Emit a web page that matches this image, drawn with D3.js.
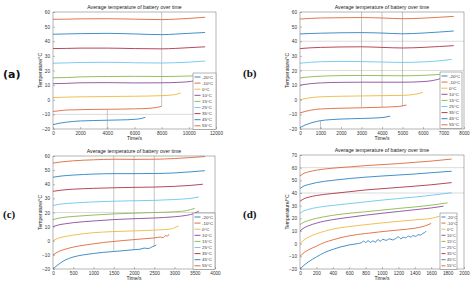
<!DOCTYPE html>
<html>
<head>
<meta charset="utf-8">
<script src="https://cdn.jsdelivr.net/npm/d3@7"></script>
<style>
  html, body { margin: 0; padding: 0; background: #fff; }
  svg { display: block; }
  text { font-family: "Liberation Sans", Arial, sans-serif; }
</style>
</head>
<body>
<div id="chart"></div>
<script>
// series names, same for all four panels
const seriesNames = ['-20°C', '-10°C', '0°C', '10°C', '15°C', '25°C', '35°C', '45°C', '55°C'];
const titleText = 'Average temperature of battery over time';

// (a) time/s vs temperature/°C
const seriesA = [
  [[0, -17], [500, -16], [1000, -15.3], [2000, -14.5], [3000, -14.2], [4000, -14], [5000, -13.8], [6000, -13.4], [6500, -12.8], [6800, -12]],
  [[0, -8], [500, -7.5], [1000, -7], [2000, -6.8], [3000, -6.6], [4000, -6.5], [5000, -6.4], [6000, -6.2], [7000, -5.9], [7600, -5.3], [8000, -4.5]],
  [[0, 1.5], [1000, 1.8], [2000, 2], [4000, 2.2], [6000, 2.4], [8000, 2.8], [8800, 3.3], [9200, 4], [9400, 4.6]],
  [[0, 11], [1000, 11.2], [2000, 11.6], [4000, 11.7], [6000, 11.5], [8000, 11.6], [9500, 12], [10200, 12.6], [10700, 13.6], [11000, 14.3]],
  [[0, 15], [1000, 15.2], [2000, 15.6], [4000, 15.9], [6000, 16], [8000, 15.9], [10000, 16.2], [11200, 16.6]],
  [[0, 25], [1000, 25.2], [2000, 25.5], [4000, 25.6], [6000, 25.3], [8000, 25.1], [9000, 25.3], [10000, 25.7], [11200, 26.5]],
  [[0, 35], [1000, 35.1], [2000, 35.3], [4000, 35.3], [6000, 35], [8000, 34.8], [9000, 35.1], [10000, 35.6], [11200, 36.2]],
  [[0, 44.8], [1000, 45], [2000, 45.2], [4000, 45.4], [6000, 45], [8000, 44.5], [9000, 44.9], [10000, 45.4], [11200, 46]],
  [[0, 55], [1000, 55.1], [2000, 55.3], [4000, 55.4], [6000, 55.1], [8000, 54.8], [9000, 55.1], [10000, 55.6], [11200, 56.4]]
];
// (b)
const seriesB = [
  [[0, -19], [250, -17.3], [500, -16], [1000, -14.3], [1500, -13.6], [2000, -13.2], [3000, -12.8], [4000, -12.2], [4400, -11.2]],
  [[0, -9], [250, -8], [500, -7.2], [1000, -6.3], [2000, -5.8], [3000, -5.5], [4000, -5.1], [4800, -4.6], [5200, -3.6]],
  [[0, 0], [500, 1.4], [1000, 2], [2000, 2.4], [3000, 2.6], [4000, 2.8], [5000, 3], [5600, 3.7], [6000, 5]],
  [[0, 10], [500, 11], [1000, 11.5], [2000, 11.9], [3000, 12], [4000, 12], [5000, 12], [6000, 12.4], [6500, 13.2], [6900, 14.6]],
  [[0, 15], [500, 15.7], [1000, 16.1], [2000, 16.5], [3000, 16.6], [4000, 16.5], [5000, 16.4], [6000, 16.7], [6800, 17.3], [7300, 18.2]],
  [[0, 25], [500, 25.6], [1000, 26], [2000, 26.2], [3000, 26.1], [4000, 25.8], [5000, 25.5], [6000, 25.9], [6800, 26.6], [7400, 27.6]],
  [[0, 35], [500, 35.5], [1000, 35.8], [2000, 36.1], [3000, 36.2], [4000, 35.8], [5000, 35.4], [6000, 35.8], [6800, 36.4], [7500, 37]],
  [[0, 45], [500, 45.3], [1000, 45.5], [2000, 45.8], [3000, 45.9], [4000, 45.6], [5000, 45.1], [6000, 45.6], [6800, 46.3], [7500, 47]],
  [[0, 55.2], [500, 55.6], [1000, 55.9], [2000, 56.1], [3000, 56.2], [4000, 55.9], [5000, 55.4], [6000, 55.8], [6800, 56.4], [7500, 57]]
];
// (c)
const seriesC = [
  [[0, -20], [100, -17.5], [250, -14.5], [500, -11.5], [750, -10], [1000, -9], [1250, -8.2], [1500, -7.6], [1750, -7], [2000, -6.3], [2150, -6], [2250, -5.2], [2350, -5.5], [2450, -4.3], [2500, -3.8], [2550, -3]],
  [[0, -10], [150, -7.5], [300, -6], [500, -4.5], [750, -3.2], [1000, -2.2], [1250, -1.2], [1500, -0.5], [1750, 0.2], [2000, 0.8], [2250, 1.4], [2500, 2], [2650, 2.6], [2720, 2.2], [2780, 3.6], [2820, 3.2], [2860, 4.6]],
  [[0, 0], [150, 2], [300, 3], [500, 4], [750, 5], [1000, 5.7], [1500, 6.5], [2000, 7], [2500, 7.5], [2900, 8.3], [3100, 10.5]],
  [[0, 10], [150, 11.3], [300, 12], [500, 12.8], [1000, 14], [1500, 15], [2000, 15.6], [2500, 16.1], [3000, 17], [3300, 18], [3500, 19.5], [3600, 21]],
  [[0, 15], [150, 16], [300, 16.7], [500, 17.2], [1000, 18.2], [1500, 19], [2000, 19.5], [2500, 20], [3000, 20.5], [3300, 21.3], [3500, 23]],
  [[0, 25], [200, 26], [500, 26.7], [1000, 27.5], [1500, 28], [2000, 28.3], [2500, 28.6], [3000, 29.2], [3400, 30], [3600, 31]],
  [[0, 35], [200, 35.8], [500, 36.5], [1000, 37.1], [1500, 37.5], [2000, 37.8], [2500, 38], [3000, 38.5], [3400, 39.2], [3700, 40]],
  [[0, 45], [200, 45.8], [500, 46.5], [1000, 47.2], [1500, 47.5], [2000, 47.5], [2500, 47.6], [3000, 48], [3400, 48.8], [3750, 49.6]],
  [[0, 55], [200, 55.8], [500, 56.6], [1000, 57.3], [1500, 57.7], [2000, 57.6], [2500, 57.7], [3000, 58.2], [3400, 58.9], [3750, 59.6]]
];
// (d)
const seriesD = [
  [[0, -20], [50, -17], [100, -14.5], [200, -10.5], [300, -7], [400, -4.5], [500, -2.5], [600, -1], [700, 0], [750, 0.8], [780, 2], [800, 0.8], [830, 2.4], [860, 1], [890, 2.2], [920, 1.2], [950, 3.2], [980, 2], [1010, 3.5], [1050, 2.6], [1090, 3.8], [1130, 3], [1170, 4.2], [1200, 5.4], [1230, 3.9], [1260, 5], [1290, 4.6], [1320, 6], [1350, 5.2], [1380, 6.4], [1410, 5.8], [1440, 7], [1470, 6.8], [1500, 8.2], [1520, 8.8], [1540, 10]],
  [[0, -10], [50, -7], [100, -5], [200, -2], [300, 1], [400, 3], [500, 4.8], [600, 6.2], [800, 8], [1000, 9.5], [1200, 10.8], [1400, 12.2], [1500, 13.5], [1600, 16]],
  [[0, 0], [50, 3], [100, 5], [200, 7.8], [300, 9.8], [400, 11.5], [600, 13.5], [800, 15], [1000, 16.4], [1200, 17.6], [1400, 18.8], [1600, 20], [1700, 21.6]],
  [[0, 10], [50, 12.5], [100, 14], [200, 16.2], [300, 17.8], [400, 19], [600, 20.8], [800, 22.5], [1000, 24], [1200, 25.4], [1400, 26.8], [1600, 28.2], [1750, 29.6]],
  [[0, 15], [50, 17], [100, 18.2], [200, 20], [300, 21.3], [400, 22.4], [600, 24], [800, 25.2], [1000, 26.5], [1200, 27.8], [1400, 29], [1600, 30.4], [1800, 32.2]],
  [[0, 24], [50, 26], [100, 27], [200, 28.5], [400, 30.2], [600, 31.6], [800, 33], [1000, 34.4], [1200, 35.6], [1400, 36.8], [1600, 38.2], [1850, 40.2]],
  [[0, 33.5], [50, 35.5], [100, 36.6], [200, 38], [400, 39.6], [600, 41], [800, 42.4], [1000, 43.4], [1200, 44.4], [1400, 45.4], [1600, 46.5], [1850, 48.2]],
  [[0, 43.5], [50, 45.6], [100, 46.6], [200, 48.2], [400, 50], [600, 51.4], [800, 52.5], [1000, 53.4], [1200, 54.2], [1400, 55], [1600, 56], [1850, 57.2]],
  [[0, 53.5], [50, 55.6], [100, 56.6], [200, 58], [400, 59.6], [600, 60.6], [800, 61.6], [1000, 62.4], [1200, 63.2], [1400, 64.2], [1600, 65.2], [1850, 66.8]]
];

// faint guide lines seen in each panel: vertical [t, from, to], horizontal [temp]
const vGuidesA = [[4000, -20, -6.5], [8000, -4.5, 60]];
const hGuidesA = [-10];
const vGuidesB = [[1000, -20, -14.3], [3000, -5.5, 60], [4000, -5.1, 60], [5000, -4.5, 60]];
const hGuidesB = [20, 40];
const vGuidesC = [[1500, -7.6, 60], [2000, -6.3, 60], [2500, -3.8, 60]];
const hGuidesC = [20];
const vGuidesD = [];
const hGuidesD = [40, 60];

const colors = ['#1f7cc0', '#db6030', '#ecb535', '#874095', '#82b343', '#62c3ee', '#a8283e', '#1f7cc0', '#db6030'];

const svg = d3.select('#chart').append('svg')
    .attr('width', 474)
    .attr('height', 286);

const panels = [
  { label: '(a)', labelFont: '"DejaVu Sans", sans-serif', lx: 3, ly: 78, box: [53, 216, 12, 129], xMax: 12000, xStep: 2000, yMin: -20, yMax: 60, data: seriesA, vg: vGuidesA, hg: hGuidesA, leg: [193, 73, 23] },
  { label: '(b)', labelFont: '"Liberation Serif", serif', lx: 243, ly: 77, box: [300, 464, 12, 129], xMax: 8000, xStep: 1000, yMin: -20, yMax: 60, data: seriesB, vg: vGuidesB, hg: hGuidesB, leg: [440, 72, 22] },
  { label: '(c)', labelFont: '"Liberation Serif", serif', lx: 3, ly: 218, box: [53, 215, 156, 269], xMax: 4000, xStep: 500, yMin: -20, yMax: 60, data: seriesC, vg: vGuidesC, hg: hGuidesC, leg: [193, 213, 22] },
  { label: '(d)', labelFont: '"Liberation Serif", serif', lx: 243, ly: 218, box: [300, 464, 155, 269], xMax: 2000, xStep: 200, yMin: -20, yMax: 70, data: seriesD, vg: vGuidesD, hg: hGuidesD, leg: [440, 213, 17] }
];

panels.forEach(function(p) {
  const [left, right, top, bottom] = p.box;
  const x = d3.scaleLinear().domain([0, p.xMax]).range([left, right]);
  const y = d3.scaleLinear().domain([p.yMin, p.yMax]).range([bottom, top]);
  const g = svg.append('g');

  // panel letter
  g.append('text')
      .attr('x', p.lx).attr('y', p.ly)
      .style('font-family', p.labelFont)
      .style('font-weight', 'bold')
      .style('font-size', '11px')
      .attr('fill', '#111')
      .text(p.label);

  // guide lines
  g.selectAll('.hg').data(p.hg).enter().append('line')
      .attr('x1', left).attr('x2', right)
      .attr('y1', (d) => y(d)).attr('y2', (d) => y(d))
      .attr('stroke', '#c4c4c4').attr('stroke-width', 0.6);
  g.selectAll('.vg').data(p.vg).enter().append('line')
      .attr('x1', (d) => x(d[0])).attr('x2', (d) => x(d[0]))
      .attr('y1', (d) => y(d[1])).attr('y2', (d) => y(d[2]))
      .attr('stroke', '#a0a0a0').attr('stroke-width', 0.6);

  // curves
  const line = d3.line().x((d) => x(d[0])).y((d) => y(d[1])).curve(d3.curveMonotoneX);
  g.selectAll('.curve').data(p.data).enter().append('path')
      .attr('fill', 'none')
      .attr('stroke', (d, i) => colors[i])
      .attr('stroke-width', 0.85)
      .attr('d', line);

  // axes
  const xAxis = d3.axisBottom(x).tickValues(d3.range(0, p.xMax + 1, p.xStep)).tickSize(-2).tickPadding(3).tickFormat(d3.format('d'));
  const yAxis = d3.axisLeft(y).tickValues(d3.range(p.yMin, p.yMax + 1, 10)).tickSize(-2).tickPadding(3);
  const xa = g.append('g').attr('transform', 'translate(0,' + bottom + ')').call(xAxis);
  const ya = g.append('g').attr('transform', 'translate(' + left + ',0)').call(yAxis);
  [xa, ya].forEach(function(a) {
    a.selectAll('text').style('font-size', '4.7px').attr('fill', '#333');
    a.selectAll('line').attr('stroke', '#555').attr('stroke-width', 0.4);
    a.select('.domain').remove();
  });
  // box
  g.append('rect')
      .attr('x', left).attr('y', top)
      .attr('width', right - left).attr('height', bottom - top)
      .attr('fill', 'none').attr('stroke', '#6b6b6b').attr('stroke-width', 0.5);

  // labels
  g.append('text')
      .attr('x', (left + right) / 2).attr('y', top - 3)
      .attr('text-anchor', 'middle')
      .style('font-size', '5.2px').attr('fill', '#222')
      .text(titleText);
  g.append('text')
      .attr('x', (left + right) / 2).attr('y', bottom + 11)
      .attr('text-anchor', 'middle')
      .style('font-size', '5px').attr('fill', '#222')
      .text('Time/s');
  g.append('text')
      .attr('transform', 'translate(' + (left - 11) + ',' + ((top + bottom) / 2) + ') rotate(-90)')
      .attr('text-anchor', 'middle')
      .style('font-size', '5px').attr('fill', '#222')
      .text('Temperature/°C');

  // legend
  const lw = p.leg[2], rowH = 6.1;
  const sample = lw > 20 ? 6 : 4;
  const lg = g.append('g').attr('transform', 'translate(' + p.leg[0] + ',' + p.leg[1] + ')');
  lg.append('rect')
      .attr('width', lw).attr('height', rowH * seriesNames.length + 1.5)
      .attr('fill', '#fff').attr('stroke', '#6b6b6b').attr('stroke-width', 0.5);
  const rows = lg.selectAll('.row').data(seriesNames).enter().append('g')
      .attr('transform', (d, i) => 'translate(0,' + (4 + i * rowH) + ')');
  rows.append('line')
      .attr('x1', 1.5).attr('x2', 1.5 + sample)
      .attr('stroke', (d, i) => colors[i]).attr('stroke-width', 0.9);
  rows.append('text')
      .attr('x', 3 + sample).attr('y', 1.6)
      .style('font-size', lw > 20 ? '4.4px' : '3.9px').attr('fill', '#333')
      .text((d) => d);
});
</script>
</body>
</html>
